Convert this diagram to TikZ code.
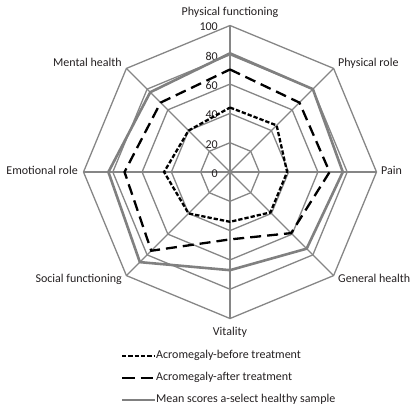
\documentclass[tikz,border=0pt]{standalone}
\usepackage{fontspec}
\setmainfont{Carlito}
\usetikzlibrary{calc}
\definecolor{gridgray}{RGB}{134,134,134}
\definecolor{healthygray}{RGB}{128,128,128}
\definecolor{labeltext}{RGB}{35,31,32}
\tikzset{
  gridline/.style={draw=gridgray, line width=1.3pt},
  beforeline/.style={draw=black, line width=2.3pt, dash pattern=on 4.3pt off 2pt},
  afterline/.style={draw=black, line width=2.3pt, dash pattern=on 11pt off 6pt},
  healthyline/.style={draw=healthygray, line width=2.6pt},
  axislabel/.style={font=\fontsize{12}{14}\selectfont, text=labeltext, inner sep=0pt, text height=8pt, text depth=2.5pt},
  ticklabel/.style={font=\fontsize{12}{14}\selectfont, text=labeltext, inner sep=0pt, anchor=east},
  legendtext/.style={font=\fontsize{12}{14}\selectfont, text=labeltext, inner sep=1pt, anchor=west, text height=8pt, text depth=2.5pt}
}
\begin{document}
\begin{tikzpicture}[x=1pt,y=1pt]
\useasboundingbox (0,0) rectangle (411,-410);
\coordinate (c) at (230,-172);
\def\unit{1.465}
% axis tips at 100
\foreach \k in {0,...,7}
  \coordinate (tip\k) at ($(c)+({90-45*\k}:{100*\unit})$);
% octagonal rings
\foreach \r in {20,40,60,80,100}
  \draw[gridline, line join=miter] ($(c)+(90:{\r*\unit})$)
    \foreach \k in {1,...,7}{ -- ($(c)+({90-45*\k}:{\r*\unit})$)} -- cycle;
% spokes
\foreach \k in {0,...,7}
  \draw[gridline] (c) -- (tip\k);
% tick labels
\foreach \v in {0,20,40,60,80,100}
  \node[ticklabel] (tick\v) at ($(c)+(-12,{\v*\unit-1.5})$) {\v};
% data series
\foreach \v [count=\i from 0] in {44,45,39,39,34,40,45,40}
  \coordinate (b\i) at ($(c)+({90-45*\i}:{\v*\unit})$);
\foreach \v [count=\i from 0] in {70,67,68,59,46,76,72,67}
  \coordinate (a\i) at ($(c)+({90-45*\i}:{\v*\unit})$);
\foreach \v [count=\i from 0] in {81,80,77,74,67,87,83,77}
  \coordinate (h\i) at ($(c)+({90-45*\i}:{\v*\unit})$);
\draw[beforeline] (b0) -- (b1) -- (b2) -- (b3) -- (b4) -- (b5) -- (b6) -- (b7) -- cycle;
\draw[afterline] (a0) -- (a1) -- (a2) -- (a3) -- (a4) -- (a5) -- (a6) -- (a7) -- cycle;
\draw[healthyline] (h0) -- (h1) -- (h2) -- (h3) -- (h4) -- (h5) -- (h6) -- (h7) -- cycle;
% axis labels
\node[axislabel] (lpf) at (230,-13) {Physical functioning};
\node[axislabel, anchor=west] (lpr) at (338,-64) {Physical role};
\node[axislabel, anchor=west] (lpain) at (381,-172) {Pain};
\node[axislabel, anchor=west] (lgh) at (338,-280) {General health};
\node[axislabel] (lvit) at (230,-333) {Vitality};
\node[axislabel, anchor=east] (lsf) at (122,-280) {Social functioning};
\node[axislabel, anchor=east] (ler) at (78,-172) {Emotional role};
\node[axislabel, anchor=east] (lmh) at (122,-64) {Mental health};
% legend
\coordinate (k1) at (122,-356);
\coordinate (k2) at (122,-378);
\coordinate (k3) at (122,-400);
\node[legendtext] (t1) at (155,-356) {Acromegaly-before treatment};
\node[legendtext] (t2) at (155,-378) {Acromegaly-after treatment};
\node[legendtext] (t3) at (155,-400) {Mean scores a-select healthy sample};
\draw[beforeline] (k1) -- (t1.west);
\draw[afterline, dash pattern=on 12.5pt off 6pt] (k2) -- (t2.west);
\draw[healthyline] (k3) -- (t3.west);
\end{tikzpicture}
\end{document}
